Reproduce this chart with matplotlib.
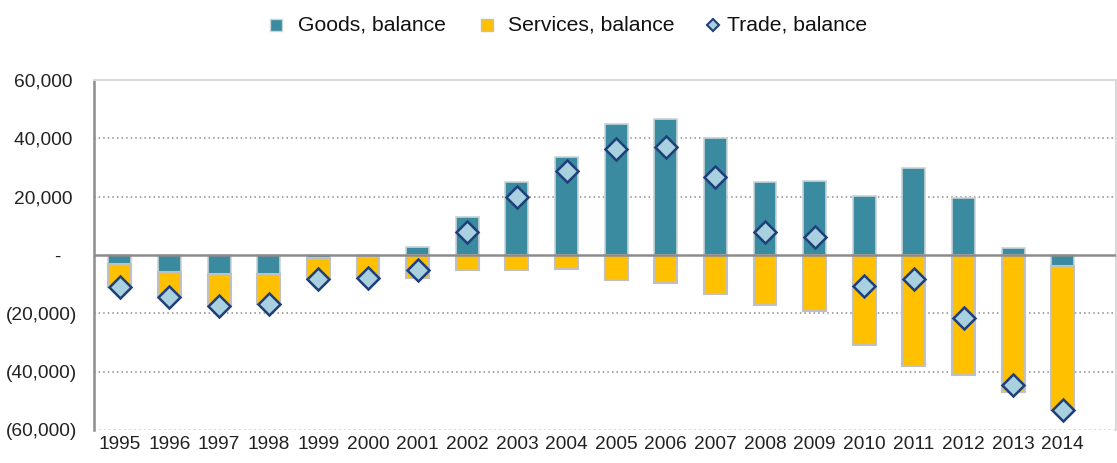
import matplotlib.pyplot as plt
from matplotlib.lines import Line2D
from matplotlib.ticker import FuncFormatter

plt.rcParams['font.family'] = ['Liberation Sans', 'DejaVu Sans']

years = [str(y) for y in range(1995, 2015)]
goods = [-3200, -5800, -6500, -6500, -1000, -700, 2700, 13000, 25000, 33600,
         44900, 46600, 40100, 25000, 25400, 20200, 29800, 19600, 2400, -3800]
services = [-7600, -8600, -11000, -10300, -7200, -7200, -7800, -5100, -5100, -4800,
            -8600, -9600, -13300, -17100, -19200, -30900, -38100, -41200, -47000, -49400]
trade = [g + s for g, s in zip(goods, services)]

teal = '#3a8aa0'
yellow = '#ffc000'
dia_face = '#a9d0de'
dia_edge = '#1f3f7a'

fig = plt.figure(figsize=(11.17, 4.63), dpi=100)
ax = fig.add_axes([0.0842, 0.0713, 0.9148, 0.7557])

x = list(range(len(years)))
# services stack below goods when goods is negative
serv_bottom = [g if g < 0 else 0 for g in goods]
ax.bar(x, goods, width=0.46, color=teal, edgecolor='#c8d4d8', linewidth=1.2, zorder=3)
ax.bar(x, services, bottom=serv_bottom, width=0.46, color=yellow,
       edgecolor='#c0c0c0', linewidth=1.5, zorder=3)
ax.plot(x, trade, linestyle='none', marker='D', markersize=11,
        markerfacecolor=dia_face, markeredgecolor=dia_edge, markeredgewidth=1.8, zorder=5)

ax.set_ylim(-60000, 60000)
ax.set_xlim(-0.52, len(years) + 0.07)
ax.set_yticks(range(-60000, 60001, 20000))
ax.set_xticks(x)
ax.set_xticklabels(years)


def fmt(v, pos):
    # accounting style: positives leave room for the closing paren
    if v == 0:
        return '-   '
    if v < 0:
        return '({:,.0f})'.format(-v)
    return '{:,.0f} '.format(v)


ax.yaxis.set_major_formatter(FuncFormatter(fmt))
ax.tick_params(axis='both', length=0, labelsize=13.8, colors='#222222')
ax.tick_params(axis='y', pad=12)
ax.tick_params(axis='x', pad=4)

for v in (-40000, -20000, 20000, 40000):
    ax.axhline(v, color='#8c8c8c', linestyle=(0, (1, 2)), linewidth=1.1, zorder=1)
ax.axhline(-60000, color='#c8c8c8', linestyle=(0, (1, 2)), linewidth=1.2, zorder=1)
ax.axhline(0, color='#8c8c8c', linewidth=1.8, zorder=4)

for side in ('top', 'right'):
    ax.spines[side].set_color('#d9d9d9')
    ax.spines[side].set_linewidth(1.5)
ax.spines['bottom'].set_visible(False)
ax.spines['left'].set_color('#8c8c8c')
ax.spines['left'].set_linewidth(1.8)

# legend, laid out by hand across the top
W, H = 1117, 463
ly = 1 - 25 / H
entries = [
    (276, 298, 'Goods, balance', dict(marker='s', markersize=9, markerfacecolor=teal,
                                       markeredgecolor='#c8d4d8')),
    (487, 508, 'Services, balance', dict(marker='s', markersize=9, markerfacecolor=yellow,
                                          markeredgecolor='#c0c0c0')),
    (713, 727, 'Trade, balance', dict(marker='D', markersize=6.5, markerfacecolor=dia_face,
                                       markeredgecolor=dia_edge, markeredgewidth=1.5)),
]
for mx, tx, label, style in entries:
    fig.add_artist(Line2D([mx / W], [ly], transform=fig.transFigure, linestyle='none', **style))
    fig.text(tx / W, ly, label, fontsize=15.2, color='#111111', ha='left', va='center')

fig.savefig('out.png', dpi=100)
